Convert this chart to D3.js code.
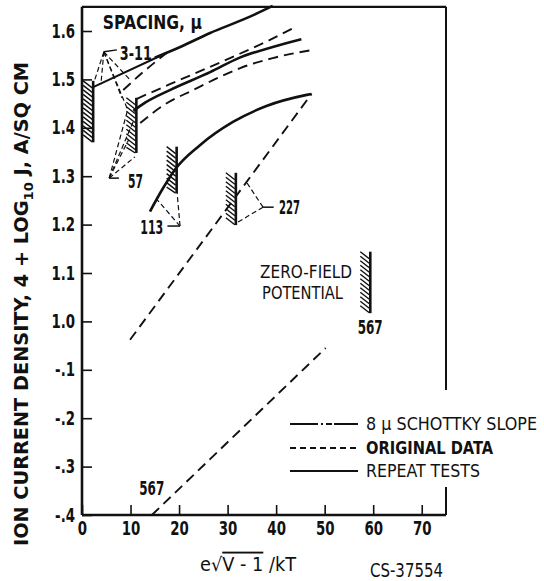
<!DOCTYPE html>
<html><head><meta charset="utf-8">
<script src="https://cdn.jsdelivr.net/npm/d3@7"></script>
<style>
body{margin:0;background:#fff;}
text{font-family:"DejaVu Sans Condensed","Liberation Sans Narrow",sans-serif;fill:#111;}
</style></head>
<body><svg id="c" width="544" height="581"></svg>
<script>
// ---- data ----
const xTicks = [0,10,20,30,40,50,60,70];
const yTickValues = [1.6,1.5,1.4,1.3,1.2,1.1,1.0,0.9,0.8,0.7,0.6];
const yTickLabels = ["1.6","1.5","1.4","1.3","1.2","1.1","1.0","-.1","-.2","-.3","-.4"];

// spacing 3-11
const s311Slope = [[2.3,1.484],[17.5,1.555]];
const s311Original = [[8.5,1.478],[12,1.51],[17.5,1.555]];
const s311Repeat = [[15,1.545],[20,1.566],[26.4,1.596],[34,1.627],[39.3,1.652]];
// spacing 57
const s57OriginalUpper = [[11.3,1.46],[18.1,1.49],[26.4,1.526],[32.5,1.553],[38,1.578],[43.5,1.606]];
const s57Repeat = [[10.6,1.435],[13,1.452],[18.1,1.478],[26.4,1.515],[32.5,1.545],[39.3,1.567],[45.2,1.583]];
const s57OriginalLower = [[12,1.41],[17,1.448],[22.9,1.478],[28.4,1.505],[32.5,1.523],[39.3,1.544],[47.6,1.561]];
// spacing 113
const s113Repeat = [[14,1.227],[16.5,1.272],[19.1,1.313],[24.3,1.364],[31.1,1.412],[38,1.445],[46.3,1.468],[47.3,1.470]];
const s113Original = [[9.9,0.962],[47.3,1.470]];
// spacing 567
const s567Original = [[14.4,0.6],[50.2,0.945]];

// zero-field potential bars: x, bottom, top
const barX = [2.3,11.2,19.5,31.7,59.4];
const barBottom = [1.37,1.348,1.265,1.199,1.017];
const barTop = [1.497,1.462,1.361,1.307,1.144];

// ---- chart ----
const svg = d3.select("#c");
const x = d3.scaleLinear([0,75],[82,446]);
const y = d3.scaleLinear([0.6,1.6],[515,31]);
const yTop = 1.65;
const line = d3.line().x(d=>x(d[0])).y(d=>y(d[1])).curve(d3.curveMonotoneX);
const straight = d3.line().x(d=>x(d[0])).y(d=>y(d[1]));

function squeeze(sel, target){
  sel.each(function(){
    const n = this.getComputedTextLength();
    const w = typeof target==="function" ? target(n, this) : target;
    this.setAttribute("textLength", w);
    this.setAttribute("lengthAdjust","spacingAndGlyphs");
  });
}

// frame
svg.append("line").attr("x1",x(0)).attr("x2",x(75)).attr("y1",y(yTop)).attr("y2",y(yTop)).attr("stroke","#111").attr("stroke-width",2.2);
svg.append("line").attr("x1",x(75)).attr("x2",x(75)).attr("y1",y(yTop)).attr("y2",390).attr("stroke","#111").attr("stroke-width",2);
svg.append("line").attr("x1",x(75)).attr("x2",x(75)).attr("y1",487).attr("y2",y(0.6)).attr("stroke","#111").attr("stroke-width",2);

// axes
const xAxis = svg.append("g").attr("transform",`translate(0,${y(0.6)})`)
  .call(d3.axisBottom(x).tickValues(xTicks).tickSizeInner(-10).tickSizeOuter(0).tickPadding(9));
const yAxis = svg.append("g").attr("transform",`translate(${x(0)},0)`)
  .call(d3.axisLeft(y).tickValues(yTickValues).tickFormat((d,i)=>yTickLabels[i]).tickSizeInner(-10).tickSizeOuter(0).tickPadding(7));
[xAxis,yAxis].forEach(g=>{
  g.select(".domain").attr("stroke","#111").attr("stroke-width",2.6);
  g.selectAll(".tick line").attr("stroke","#111").attr("stroke-width",1.6);
  g.selectAll(".tick text").attr("font-size",19).attr("font-weight","bold").attr("fill","#111")
    .style("font-family",'"DejaVu Sans Condensed",sans-serif');
  squeeze(g.selectAll(".tick text"), n=>n*0.78);
});
xAxis.selectAll(".tick text").attr("dy","0.6em");
xAxis.select(".domain").attr("d",`M${x(0)},0H${x(75)}`);
yAxis.select(".domain").attr("d",`M0,${y(0.6)}V${y(yTop)}`);

// curves
function draw(data, style, gen){
  const p = svg.append("path").attr("d",(gen||line)(data)).attr("fill","none").attr("stroke","#111");
  if(style==="solid") p.attr("stroke-width",2.6);
  if(style==="dash") p.attr("stroke-width",1.9).attr("stroke-dasharray","10,6");
  if(style==="slope") p.attr("stroke-width",2.0);
  return p;
}
draw(s311Slope,"slope",straight);
draw(s311Original,"dash");
draw(s311Repeat,"solid");
draw(s57OriginalUpper,"dash");
draw(s57Repeat,"solid");
draw(s57OriginalLower,"dash");
draw(s113Repeat,"solid");
draw(s113Original,"dash",straight);
draw(s567Original,"dash",straight);

// hatched bars
barX.forEach((bx,i)=>{
  const px = x(bx), top = y(barTop[i]), bot = y(barBottom[i]);
  svg.append("line").attr("x1",px).attr("x2",px).attr("y1",top).attr("y2",bot).attr("stroke","#111").attr("stroke-width",2.6);
  for(let yy=top; yy<bot-3; yy+=4.5){
    svg.append("line").attr("x1",px-10).attr("y1",yy).attr("x2",px-1).attr("y2",Math.min(yy+7,bot)).attr("stroke","#111").attr("stroke-width",1.4);
  }
});

// annotations (leader lines)
function leader(from, tos){
  tos.forEach(t=>svg.append("line").attr("x1",x(from[0])).attr("y1",y(from[1])).attr("x2",x(t[0])).attr("y2",y(t[1]))
    .attr("stroke","#111").attr("stroke-width",1.2).attr("stroke-dasharray","5,3"));
}
function seg(a,b){svg.append("line").attr("x1",x(a[0])).attr("y1",y(a[1])).attr("x2",x(b[0])).attr("y2",y(b[1])).attr("stroke","#111").attr("stroke-width",1.5);}
function label(t,pos,width,anchor,weight,size){
  const el = svg.append("text").attr("x",x(pos[0])).attr("y",y(pos[1])).attr("dy","0.36em").attr("text-anchor",anchor||"start")
    .attr("font-size",size||20).attr("font-weight",weight||"bold").text(t);
  squeeze(el, width);
  return el;
}
// 3-11
leader([4.5,1.557],[[2.5,1.495],[3.9,1.49],[9.9,1.499],[8.2,1.462],[9.3,1.44]]);
seg([4.5,1.557],[7.2,1.561]);
label("3-11",[7.8,1.555],32);
// 57
leader([5.6,1.296],[[9.3,1.433],[10.7,1.416],[9.6,1.375],[10.9,1.34]]);
seg([5.6,1.296],[7.6,1.296]);
label("57",[9.5,1.29],15);
// 113
leader([20.2,1.197],[[19.6,1.265],[15.5,1.251]]);
seg([17.6,1.197],[20.2,1.197]);
label("113",[12.0,1.195],23);
// 227
leader([37.3,1.236],[[34,1.286],[32.1,1.205]]);
seg([37.3,1.236],[39.5,1.236]);
label("227",[40.6,1.236],21);
// 567
label("567",[56.8,0.988],25);
label("567",[11.8,0.656],25);
label("ZERO-FIELD",[36.7,1.102],92,"start","normal",17);
label("POTENTIAL",[37.1,1.059],81,"start","normal",17);
label("SPACING, \u00b5",[4.3,1.619],99);

// legend
const lg = svg.append("g");
const legendRows = [
  {t:"8 \u00b5 SCHOTTKY SLOPE", dash:"28,3,2,3,6,2,40", w:"normal", y:424, len:171},
  {t:"ORIGINAL DATA", dash:"6,4", w:"bold", y:448, len:127},
  {t:"REPEAT TESTS", dash:null, w:"normal", y:471, len:114}
];
legendRows.forEach(r=>{
  const l = lg.append("line").attr("x1",290).attr("x2",358).attr("y1",r.y).attr("y2",r.y).attr("stroke","#111").attr("stroke-width",1.8);
  if(r.dash) l.attr("stroke-dasharray",r.dash);
  const t = lg.append("text").attr("x",366).attr("y",r.y).attr("dy","0.36em").attr("font-size",17.5).attr("font-weight",r.w).text(r.t);
  squeeze(t, r.len);
});

// axis titles
const yl = svg.append("text").attr("transform","translate(21,304) rotate(-90)").attr("text-anchor","middle").attr("dy","0.35em")
  .attr("font-size",19).attr("font-weight","bold")
  .html('ION CURRENT DENSITY, 4 + LOG<tspan font-size="13" dy="5">10</tspan><tspan dy="-5"> J, A/SQ CM</tspan>');
squeeze(yl, 484);
const xt = svg.append("text").attr("x",200).attr("y",564).attr("dy","0.35em").attr("font-size",19);
xt.append("tspan").text("e\u221a");
xt.append("tspan").style("text-decoration","overline").text("V - 1");
xt.append("tspan").text(" /kT");
squeeze(xt, 96);
const cs = svg.append("text").attr("x",370).attr("y",570).attr("dy","0.35em").attr("font-size",19).text("CS-37554");
squeeze(cs, 73);
</script></body></html>
